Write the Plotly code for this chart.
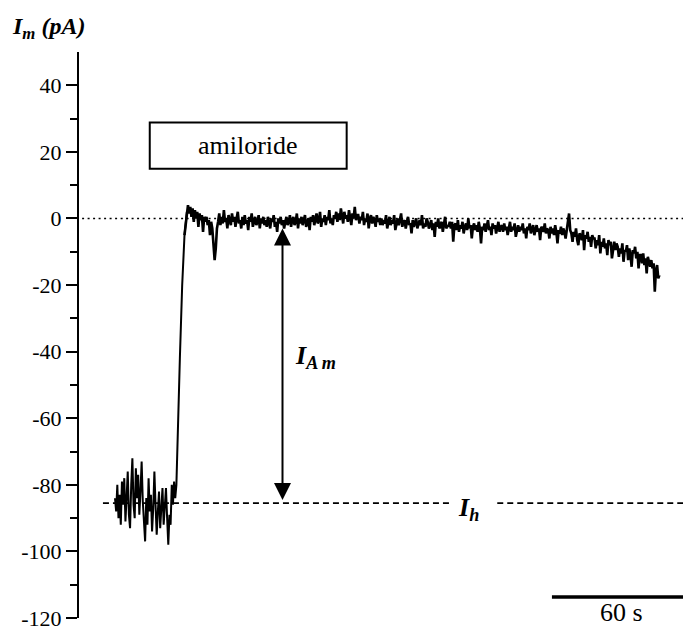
import plotly.graph_objects as go

# ---- data (pA) ----
baseline_pA = [-84, -88, -80, -90, -83, -92, -79, -86, -78, -91,
               -84, -76, -89, -93, -80, -72, -86, -90, -75, -84,
               -77, -89, -82, -73, -85, -90, -97, -84, -92, -78,
               -88, -83, -94, -87, -76, -86, -95, -88, -82, -93,
               -86, -81, -92, -87, -81, -90, -98, -89, -92, -80,
               -86, -79, -84, -80]
rise_pA = [-64, -42, -20, -5]
peak_pA = [2, 4, 1.5, 3.5, 0.5, 3, -1, 2.5, 0, 2,
           -2.5, 1.5, -0.5, 1, -4, 0.5, -1, 0.5, -2, -0.5,
           -5, -1, -3, -8, -12.5, -9, -3, -1]
plateau_pA = [1.5, -2, 0.5, -1.5, 2.5, -1, 0, -3, 1, -0.5, -2, 1.5, -1, 0.5, -2.5, 0, 2, -1.5, -0.5, -3,
              0.5, -2, 1, -1.5, -0.5, -3.5, 0.5, -1, 1.5, -2.5, -0.5, 0.5, -2, -1, 1, -3, 0, -1.5, 0.5, -2,
              -0.5, -2.5, 0.5, -1.5, -3, 0, -1, 1, -2.5, -1, -4, 0, -1.5, 0.5, -2, -0.5, -3, -1, 0.5, -2,
              -1, 1, -2.5, -0.5, 0.5, -2, -1, 1.5, -3, 0, -1.5, 0.5, -2, -0.5, 1, -2.5, -1, 0, -3.5, 0.5,
              -1, 1, -2, 0, 1.5, -1.5, -0.5, 2, -2.5, 0, -1, 1, -2, 0.5, -0.5, 2.5, -1.5, 0, -2, 1,
              0, 2, -1, 1.5, -0.5, 3, 0.5, -1.5, 2, 0, 1, -1, 2.5, 0.5, -2, 1.5, 0, 3.5, -0.5, 1,
              1, -1.5, 0.5, -0.5, 2, -2, 0, -1, 1.5, -3, 0, 1, -1.5, 0.5, -0.5, -2.5, 1, -1, 0, -2,
              0, -2, -0.5, -1.5, 1, -3, -1, 0.5, -2, -0.5, -1.5, 1, -3.5, -1, 0, -2, -0.5, 1.5, -2.5, -1,
              -0.5, -3, -1, 0.5, -2, -1.5, -4.5, -0.5, -2.5, -1, 0, -3, -1.5, -0.5, -2, 1, -3, -1.5, -2.5, 0,
              -1, -3, -2, -0.5, -3.5, -1.5, -5.5, -1, -2.5, 0, -3, -2, -1, -4, -1.5, 0.5, -3, -2, -2.5, -1,
              -3, -1, -7, -2, -1.5, -3.5, -0.5, -4, -2, -3, -1, -4.5, -2.5, -1.5, -3.5, 0, -3, -2, -6, -2.5,
              -1.5, -3.5, -2, -4, -1, -3, -7.5, -2.5, -3.5, -1.5, -4, -2, -0.5, -3.5, -2.5, -5, -1.5, -3, -2, -4.5,
              -3, -1, -4, -2.5]
decline_pA = [-2, -4, -1.5, -3.5, -2.5, -5, -3, -1, -4, -2.5, -3.5, -1.5, -5.5, -3, -2, -4, -2.5, -3.5, -1.5, -4.5,
              -3, -6, -2.5, -3.5, -1.5, -4.5, -3, -2, -5, -3.5, -2, -4, -3, -6.5, -2.5, -3, -4, -1.5, -4.5, -3,
              -3.5, -6, -2.5, -4.5, -3, -5, -2, -4, -7.5, -3.5, -4.5, -2.5, -5, -3, -4, -6, -3, -1.5, 1.5, -3.5,
              -4.5, -7, -4, -5.5, -3, -6.5, -8, -4.5, -5, -6.5, -3.5, -9.5, -5, -6, -4, -7, -5.5, -8.5, -5, -6,
              -6, -9, -6.5, -8, -5, -10.5, -7, -8.5, -6, -9, -7.5, -11, -6.5, -8, -7, -12, -8.5, -7, -9.5, -7.5,
              -8.5, -11.5, -9, -10.5, -7.5, -13, -9.5, -10, -8, -12.5, -9, -11, -14.5, -9.5, -10.5, -8.5, -12, -10, -15, -11,
              -11, -13.5, -10.5, -14, -12, -16.5, -11.5, -13, -14.5, -12.5, -15, -13.5, -22, -15.5, -14, -18, -17]

# segment start times (s) and sample intervals (s)
segments = [(baseline_pA, 0, 0.5), (rise_pA, 27, 1.0), (peak_pA, 31, 0.5),
            (plateau_pA, 45, 0.5), (decline_pA, 167, 0.5)]
time_s, current_pA = [], []
for vals, t0, dt in segments:
    for i, v in enumerate(vals):
        time_s.append(t0 + i * dt)
        current_pA.append(v)
n_pre = len(baseline_pA) + len(rise_pA)

y_ticks = [-120, -100, -80, -60, -40, -20, 0, 20, 40]
y_ticktext = ["-120", "-100", "-80", "-60", "-40", "-20", "0", "20", "40"]
y_minor = [-110, -90, -70, -50, -30, -10, 10, 30]

holding_pA = -85.5
zero_pA = 0
amiloride_s = [15, 100]
amiloride_box_pA = [14.9, 28.8]
arrow_s = 72.3
arrow_pA = [-3, -85]
scalebar_s = [188.6, 248.6]
scalebar_pA = -113.7

XR = [-15.54, 248.63]
SERIF = "Liberation Serif"

fig = go.Figure()
# before / during the rise (thinner stroke)
fig.add_trace(go.Scatter(x=time_s[:n_pre + 1], y=current_pA[:n_pre + 1], mode="lines",
                         line=dict(color="black", width=2),
                         hoverinfo="skip", showlegend=False))
# after the rise: dense noisy band
fig.add_trace(go.Scatter(x=time_s[n_pre - 1:], y=current_pA[n_pre - 1:], mode="lines",
                         line=dict(color="black", width=2.6),
                         hoverinfo="skip", showlegend=False))

# dotted zero line
fig.add_shape(type="line", x0=-14.2, x1=XR[1], y0=zero_pA, y1=zero_pA,
              line=dict(color="black", width=1.5, dash="2px,3.5px"), layer="below")
# dashed holding line (with gap for label)
fig.add_shape(type="line", x0=-5.2, x1=144.4, y0=holding_pA, y1=holding_pA,
              line=dict(color="black", width=1.6, dash="6px,4px"), layer="below")
fig.add_shape(type="line", x0=165.0, x1=XR[1], y0=holding_pA, y1=holding_pA,
              line=dict(color="black", width=1.6, dash="6px,4px"), layer="below")
# amiloride box
fig.add_shape(type="rect", x0=amiloride_s[0], x1=amiloride_s[1],
              y0=amiloride_box_pA[0], y1=amiloride_box_pA[1],
              line=dict(color="black", width=2), fillcolor="white")
fig.add_annotation(x=sum(amiloride_s) / 2, y=sum(amiloride_box_pA) / 2,
                   text="amiloride", showarrow=False,
                   font=dict(family=SERIF, size=26, color="black"))
# scale bar
fig.add_shape(type="line", x0=scalebar_s[0], x1=scalebar_s[1],
              y0=scalebar_pA, y1=scalebar_pA, line=dict(color="black", width=3.5))
fig.add_annotation(x=sum(scalebar_s) / 2, y=-118.3, text="60 s", showarrow=False,
                   yanchor="middle", font=dict(family=SERIF, size=26, color="black"))
# double arrow
fig.add_annotation(x=arrow_s, y=arrow_pA[0], ax=arrow_s, ay=arrow_pA[1],
                   xref="x", yref="y", axref="x", ayref="y", text="",
                   showarrow=True, arrowhead=2, startarrowhead=2,
                   arrowside="end+start", arrowsize=1.7, startarrowsize=1.7,
                   arrowwidth=2, arrowcolor="black", standoff=0, startstandoff=0)
# labels
fig.add_annotation(x=86.5, y=-41.5, text="<b><i>I</i></b><sub><b><i>A m</i></b></sub>",
                   showarrow=False, font=dict(family=SERIF, size=26, color="black"))
fig.add_annotation(x=152.6, y=-87.4, text="<b><i>I</i></b><sub><b><i>h</i></b></sub>",
                   showarrow=False, font=dict(family=SERIF, size=26, color="black"))
fig.add_annotation(xref="paper", yref="paper", x=-0.113, y=1.042,
                   xanchor="left", yanchor="middle",
                   text="<b><i>I</i></b><sub><b><i>m</i></b></sub><b><i> (pA)</i></b>",
                   showarrow=False, font=dict(family=SERIF, size=24, color="black"))

# page body has an 8 px margin: figure is 8 px smaller and offset accordingly
fig.update_layout(
    width=683, height=618,
    margin=dict(l=71, r=0, t=44, b=8, autoexpand=False),
    paper_bgcolor="white", plot_bgcolor="white",
    xaxis=dict(range=XR, visible=False, showgrid=False, zeroline=False,
               automargin=False),
    yaxis=dict(range=[-120, 50], tickvals=y_ticks, ticktext=y_ticktext,
               showgrid=False, zeroline=False, ticklabeloverflow="allow",
               automargin=False,
               showline=True, linecolor="black", linewidth=2,
               ticks="outside", ticklen=11, tickwidth=2, tickcolor="black",
               tickfont=dict(family=SERIF, size=22, color="black"),
               minor=dict(tickvals=y_minor, ticks="outside", ticklen=7,
                          tickwidth=2, tickcolor="black", showgrid=False)),
    showlegend=False,
)

fig.write_html("out.html")
